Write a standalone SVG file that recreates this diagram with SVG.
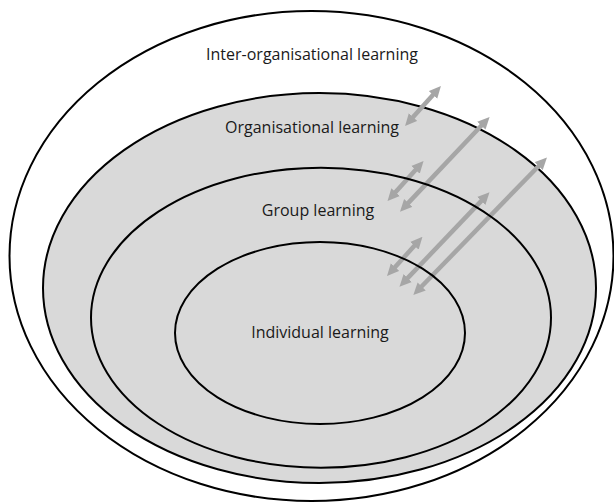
<svg xmlns="http://www.w3.org/2000/svg" width="614" height="503" viewBox="0 0 614 503">
<defs>
<style>
.ring{stroke:#000;stroke-width:2}
.lbl{font-family:"Open Sans","Liberation Sans",sans-serif;font-size:16px;fill:#1a1a1a;text-anchor:middle}
.arr{stroke:#a6a6a6;stroke-width:4.5;fill:none;marker-start:url(#ah);marker-end:url(#ah)}
</style>
<marker id="ah" viewBox="0 0 12 12" markerWidth="12" markerHeight="12" markerUnits="userSpaceOnUse" refX="4" refY="6" orient="auto-start-reverse">
<path d="M0,0.3 L12,6 L0,11.7 z" fill="#a6a6a6"/>
</marker>
</defs>
<rect width="614" height="503" fill="#fff"/>
<g id="inter-organisational">
<ellipse cx="311.5" cy="256" rx="302" ry="245" fill="#fff" class="ring" stroke-width="1.6"/>
<text class="lbl" x="312" y="60">Inter-organisational learning</text>
</g>
<g id="organisational">
<ellipse cx="319.5" cy="288" rx="276.5" ry="195" fill="#d9d9d9" class="ring"/>
<text class="lbl" x="312" y="133">Organisational learning</text>
</g>
<g id="connectors">
<line class="arr" x1="410.4" y1="120.1" x2="435.6" y2="91.9"/>
<line class="arr" x1="405.5" y1="205.9" x2="484.1" y2="122.8"/>
<line class="arr" x1="392.9" y1="195.1" x2="418.2" y2="166.9"/>
<line class="arr" x1="392.4" y1="270.1" x2="417.1" y2="242.8"/>
<line class="arr" x1="405" y1="280.9" x2="484" y2="198.1"/>
<line class="arr" x1="418.9" y1="289.3" x2="541.4" y2="163.2"/>
</g>
<g id="group">
<ellipse cx="321" cy="317.7" rx="230" ry="150" fill="none" class="ring"/>
<text class="lbl" x="318" y="216">Group learning</text>
</g>
<g id="individual">
<ellipse cx="320" cy="333" rx="145" ry="91" fill="none" class="ring"/>
<text class="lbl" x="320" y="338">Individual learning</text>
</g>
</svg>
